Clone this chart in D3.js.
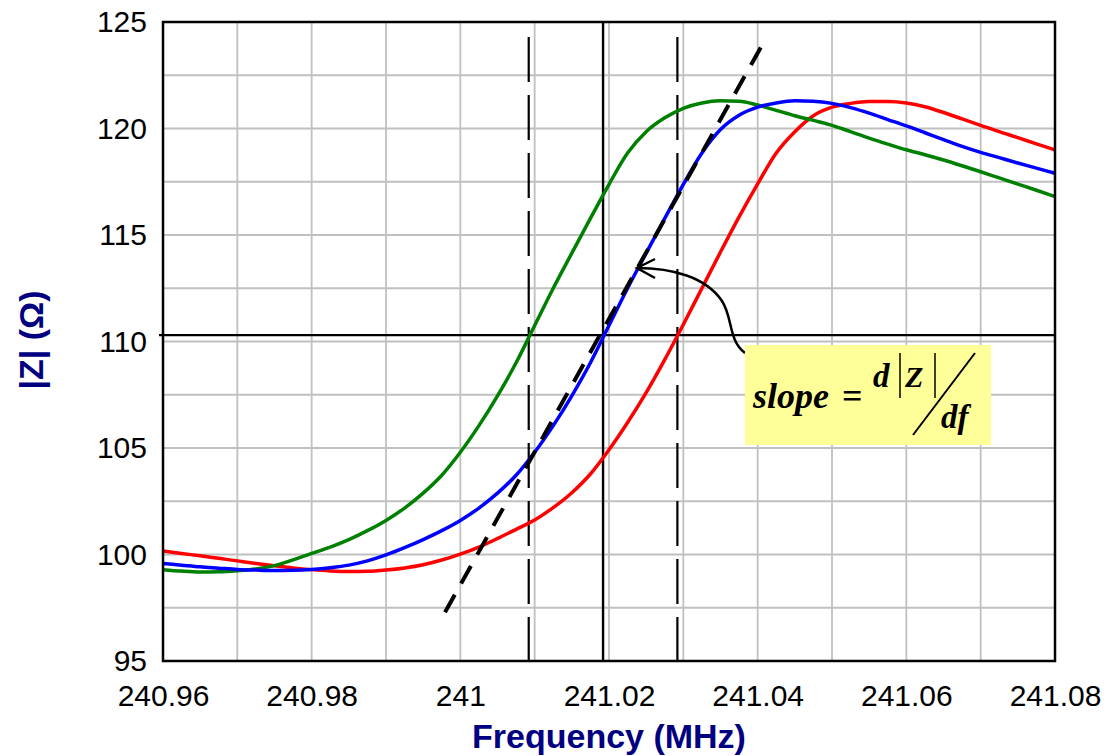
<!DOCTYPE html>
<html>
<head>
<meta charset="utf-8">
<script src="https://cdn.jsdelivr.net/npm/d3@7"></script>
<style>
  body { margin: 0; background: #fff; }
  svg { display: block; }
</style>
</head>
<body>
<script>
// sample frequencies (MHz), every 0.0025
const freqs = [
  240.96, 240.9625, 240.965, 240.9675, 240.97, 240.9725, 240.975, 240.9775,
  240.98, 240.9825, 240.985, 240.9875, 240.99, 240.9925, 240.995, 240.9975,
  241.00, 241.0025, 241.005, 241.0075, 241.01, 241.0125, 241.015, 241.0175,
  241.02, 241.0225, 241.025, 241.0275, 241.03, 241.0325, 241.035, 241.0375,
  241.04, 241.0425, 241.045, 241.0475, 241.05, 241.0525, 241.055, 241.0575,
  241.06, 241.0625, 241.065, 241.0675, 241.07, 241.0725, 241.075, 241.0775,
  241.08
];

// |Z| in ohms, one value per frequency
const zGreen = [
  99.29, 99.22, 99.18, 99.19, 99.24, 99.32, 99.48, 99.75,
  100.05, 100.35, 100.70, 101.12, 101.60, 102.18, 102.88, 103.72,
  104.80, 106.05, 107.45, 109.00, 110.75, 112.50, 114.15, 115.78,
  117.38, 118.85, 119.85, 120.50, 120.95, 121.20, 121.30, 121.28,
  121.10, 120.85, 120.60, 120.38, 120.15, 119.85, 119.55, 119.27,
  119.00, 118.77, 118.52, 118.25, 117.97, 117.68, 117.39, 117.10,
  116.80
];
const zBlue = [
  99.58, 99.50, 99.42, 99.36, 99.30, 99.27, 99.25, 99.26,
  99.30, 99.38, 99.50, 99.70, 99.98, 100.32, 100.70, 101.12,
  101.60, 102.18, 102.88, 103.72, 104.80, 106.05, 107.45, 109.00,
  110.75, 112.50, 114.15, 115.78, 117.38, 118.85, 119.95, 120.62,
  121.00, 121.20, 121.30, 121.28, 121.18, 120.98, 120.72, 120.42,
  120.12, 119.80, 119.48, 119.16, 118.88, 118.63, 118.38, 118.14,
  117.90
];
const zRed = [
  100.17, 100.05, 99.94, 99.82, 99.70, 99.58, 99.47, 99.37,
  99.29, 99.23, 99.20, 99.21, 99.27, 99.37, 99.52, 99.74,
  100.02, 100.35, 100.75, 101.18, 101.62, 102.20, 102.90, 103.78,
  104.92, 106.20, 107.60, 109.15, 110.80, 112.50, 114.20, 115.85,
  117.40, 118.85, 119.85, 120.60, 121.00, 121.18, 121.27, 121.27,
  121.20, 121.02, 120.75, 120.45, 120.15, 119.85, 119.57, 119.28,
  119.00
];

const xTicks = [240.96, 240.98, 241.00, 241.02, 241.04, 241.06, 241.08];
const yTicks = [95, 100, 105, 110, 115, 120, 125];
const xGrid = [240.97, 240.98, 240.99, 241.00, 241.01, 241.02, 241.03, 241.04, 241.05, 241.06, 241.07];
const yGrid = [97.5, 100, 102.5, 105, 107.5, 110, 112.5, 115, 117.5, 120, 122.5];

// reference markers
const centerFreq = 241.0192;
const bandFreqs = [241.0092, 241.0292];
const refZ = 110.3;
const tangent = [[240.99794, 97.29], [241.041, 124.17]];

const margin = {top: 22, right: 50, bottom: 95, left: 163},
  width = 1105 - margin.left - margin.right,
  height = 756 - margin.top - margin.bottom;

const x = d3.scaleLinear().domain([240.96, 241.08]).range([0, width]);
const y = d3.scaleLinear().domain([95, 125]).range([height, 0]);

const svg = d3.select("body").append("svg")
  .attr("width", 1105)
  .attr("height", 756);

const g = svg.append("g")
  .attr("transform", "translate(" + margin.left + "," + margin.top + ")");

// grid
g.selectAll(".vgrid").data(xGrid).enter().append("line")
  .attr("x1", d => x(d)).attr("x2", d => x(d))
  .attr("y1", 0).attr("y2", height)
  .attr("stroke", "#c0c0c0").attr("stroke-width", 1.8);
g.selectAll(".hgrid").data(yGrid).enter().append("line")
  .attr("x1", 0).attr("x2", width)
  .attr("y1", d => y(d)).attr("y2", d => y(d))
  .attr("stroke", "#c0c0c0").attr("stroke-width", 1.8);

// reference lines
g.append("line")
  .attr("x1", -4).attr("x2", width)
  .attr("y1", y(refZ)).attr("y2", y(refZ))
  .attr("stroke", "#000").attr("stroke-width", 2.2);
g.append("line")
  .attr("x1", x(centerFreq)).attr("x2", x(centerFreq))
  .attr("y1", 0).attr("y2", height)
  .attr("stroke", "#000").attr("stroke-width", 2.4);
g.selectAll(".band").data(bandFreqs).enter().append("line")
  .attr("x1", d => x(d)).attr("x2", d => x(d))
  .attr("y1", 15).attr("y2", height)
  .attr("stroke", "#000").attr("stroke-width", 2.2)
  .attr("stroke-dasharray", "45,13");

// curves
const line = d3.line()
  .x((d, i) => x(freqs[i]))
  .y(d => y(d))
  .curve(d3.curveMonotoneX);

const series = [
  {values: zRed, color: "#ff0000"},
  {values: zGreen, color: "#008000"},
  {values: zBlue, color: "#0000ff"}
];
g.selectAll(".curve").data(series).enter().append("path")
  .attr("d", d => line(d.values))
  .attr("fill", "none")
  .attr("stroke", d => d.color)
  .attr("stroke-width", 3.5)
  .attr("stroke-linejoin", "round");

// tangent (slope) line
g.append("line")
  .attr("x1", x(tangent[0][0])).attr("y1", y(tangent[0][1]))
  .attr("x2", x(tangent[1][0])).attr("y2", y(tangent[1][1]))
  .attr("stroke", "#000").attr("stroke-width", 4)
  .attr("stroke-dasharray", "20,13");

// frame
g.append("rect")
  .attr("width", width).attr("height", height)
  .attr("fill", "none").attr("stroke", "#000").attr("stroke-width", 2.5);

// axes
const xAxis = d3.axisBottom(x).tickValues(xTicks).tickSize(0).tickPadding(24)
  .tickFormat(d => String(+d.toFixed(2)));
const yAxis = d3.axisLeft(y).tickValues(yTicks).tickSize(0).tickPadding(16);

g.append("g").attr("transform", "translate(0," + height + ")").call(xAxis)
  .call(a => a.select(".domain").remove())
  .selectAll("text")
  .attr("font-family", "'Liberation Sans', Arial, sans-serif")
  .attr("font-size", 30).attr("fill", "#000");

g.append("g").call(yAxis)
  .call(a => a.select(".domain").remove())
  .selectAll("text")
  .attr("font-family", "'Liberation Sans', Arial, sans-serif")
  .attr("font-size", 30).attr("fill", "#000");

// axis titles
svg.append("text")
  .attr("x", margin.left + width / 2).attr("y", 748)
  .attr("text-anchor", "middle")
  .attr("font-family", "'Liberation Sans', Arial, sans-serif")
  .attr("font-size", 34).attr("font-weight", "bold").attr("fill", "#000080")
  .text("Frequency (MHz)");

svg.append("text")
  .attr("transform", "translate(43,340) rotate(-90)")
  .attr("text-anchor", "middle")
  .attr("font-family", "'Liberation Sans', Arial, sans-serif")
  .attr("font-size", 34).attr("font-weight", "bold").attr("fill", "#000080")
  .text("|Z| (\u03A9)");

// slope callout
const note = svg.append("g");
note.append("path")
  .attr("d", "M745,353 C728,340 733,318 722,301 C706,277 672,268 637,268")
  .attr("fill", "none").attr("stroke", "#000").attr("stroke-width", 2.5);
note.append("path")
  .attr("d", "M655,259 L637,268 L655,278")
  .attr("fill", "none").attr("stroke", "#000").attr("stroke-width", 2.5);

note.append("rect")
  .attr("x", 745).attr("y", 345).attr("width", 246).attr("height", 100)
  .attr("fill", "#ffff99");

const serif = "'Liberation Serif', 'Times New Roman', serif";
note.append("text")
  .attr("x", 753).attr("y", 408)
  .attr("font-family", serif).attr("font-size", 36)
  .attr("font-weight", "bold").attr("font-style", "italic")
  .text("slope");
note.append("text")
  .attr("x", 842).attr("y", 408)
  .attr("font-family", serif).attr("font-size", 36).attr("font-weight", "bold")
  .text("=");
note.append("text")
  .attr("x", 873).attr("y", 387)
  .attr("font-family", serif).attr("font-size", 33)
  .attr("font-weight", "bold").attr("font-style", "italic")
  .text("d");
note.append("text")
  .attr("x", 905).attr("y", 387)
  .attr("font-family", serif).attr("font-size", 30)
  .attr("font-weight", "bold").attr("font-style", "italic")
  .text("Z");
note.selectAll(".bar").data([900, 935]).enter().append("line")
  .attr("x1", d => d).attr("x2", d => d)
  .attr("y1", 353).attr("y2", 398)
  .attr("stroke", "#000").attr("stroke-width", 1.5);
note.append("line")
  .attr("x1", 975).attr("y1", 353).attr("x2", 913).attr("y2", 435)
  .attr("stroke", "#000").attr("stroke-width", 2);
note.append("text")
  .attr("x", 941).attr("y", 428)
  .attr("font-family", serif).attr("font-size", 33)
  .attr("font-weight", "bold").attr("font-style", "italic")
  .text("df");
</script>
</body>
</html>
